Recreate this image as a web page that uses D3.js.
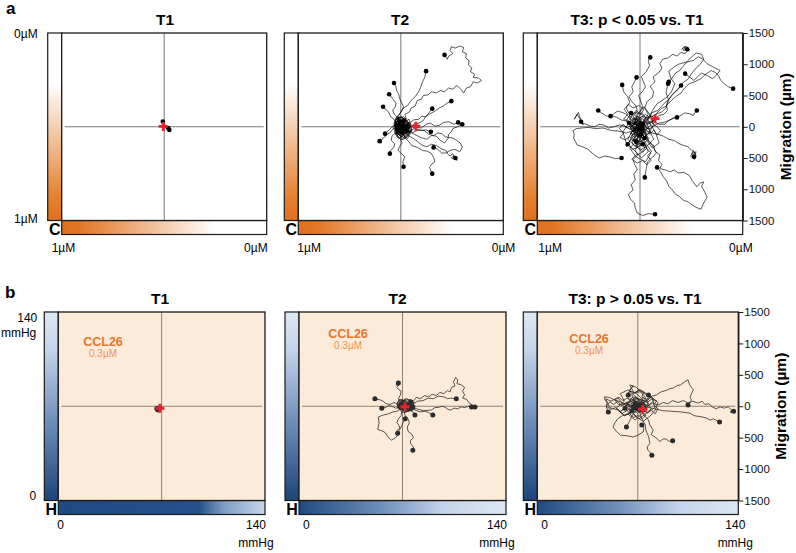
<!DOCTYPE html>
<html>
<head>
<meta charset="utf-8">
<script src="https://cdn.jsdelivr.net/npm/d3@7"></script>
<style>
  body { margin: 0; background: #fff; }
  svg { font-family: "Liberation Sans", Arial, sans-serif; }
</style>
</head>
<body>
<div id="chart"></div>
<script>
////////////////////////////////////////////////////////////////////////
// Data (all track coordinates in µm, origin = start of every track)

let panelTitles = ["T1", "T2", "T3: p < 0.05 vs. T1", "T1", "T2", "T3: p > 0.05 vs. T1"];
let migrationDomain = [-1500, 1500];
let migrationTicks = [1500, 1000, 500, 0, -500, -1000, -1500];
let migrationLabel = "Migration (µm)";
let ccl26Label = ["CCL26", "0.3µM"];
let concLabels = ["0µM", "1µM"];
let o2Labels = ["0", "140", "mmHg"];

// centre of mass of each panel (red cross)
let centroids = [[-15, 5], [220, 10], [220, 130], [-25, -33], [35, -8], [73, -48]];

let tracksA1 = [
  [[0,0],[-10,40],[-20,85]],
  [[0,0],[30,-20],[50,-30],[75,-50]],
  [[0,0],[20,30],[-15,20],[10,-10],[40,-40],[60,-20]]
];

let tracksA2 = [
  [[0,0],[40,50],[20,110],[80,130],[60,200],[130,240],[150,300],[210,330],[240,420],[300,440],[330,500],[400,510],[450,560],[520,540],[580,580],[640,560],[700,620],[760,600],[820,660],[880,600],[920,540],[960,620],[1020,640],[1060,720],[1120,700],[1180,740],[1140,780],[1060,790],[1080,840],[1020,880],[1040,940],[990,990],[1000,1060],[950,1100],[960,1170],[900,1200],[920,1270],[860,1290],[800,1260],[740,1280],[720,1220],[760,1170],[700,1130],[680,1080],[640,1150]],
  [[0,0],[-40,70],[-60,150],[-10,220],[40,300],[100,340],[150,420],[210,480],[260,560],[290,630],[310,700],[350,790],[370,890]],
  [[0,0],[60,40],[120,60],[190,110],[260,120],[310,170],[360,160],[430,210],[500,250],[560,300],[620,330],[680,380],[740,410]],
  [[0,0],[50,-30],[90,-40],[150,10],[200,40],[270,60],[330,100],[360,160],[400,200],[430,250],[460,290]],
  [[0,0],[80,-40],[150,-60],[220,-10],[300,-20],[370,40],[430,60],[500,10],[560,20],[630,70],[700,80],[780,40],[840,70]],
  [[0,0],[100,-70],[200,-120],[290,-170],[380,-200],[450,-140],[520,-150],[580,-220],[640,-260],[690,-190],[700,-120],[740,-80],[760,-30],[830,0],[900,40]],
  [[0,0],[60,-80],[120,-150],[190,-190],[260,-250],[320,-300],[380,-320],[450,-280],[520,-300],[590,-350],[660,-380],[690,-440],[720,-470],[760,-430],[790,-520],[740,-500],[780,-460],[820,-540],[770,-480],[800,-500]],
  [[0,0],[90,-60],[180,-90],[260,-50],[340,-60],[410,-120],[480,-140],[540,-100],[600,-110],[650,-160],[700,-170],[760,-180],[820,-220],[870,-260],[900,-320],[880,-370],[860,-400],[790,-360],[720,-380],[660,-420],[600,-420],[540,-360],[480,-330]],
  [[0,0],[60,-30],[120,-40],[160,0],[200,-10],[250,-50],[300,-60],[370,-50],[440,-80]],
  [[0,0],[30,-90],[60,-180],[110,-230],[160,-300],[240,-330],[320,-380],[380,-390],[440,-420],[480,-490],[500,-560],[450,-600],[420,-650],[440,-700],[460,-750]],
  [[0,0],[-30,-60],[-60,-120],[-10,-190],[20,-260],[-20,-320],[-40,-380],[10,-430],[60,-480],[30,-560],[40,-640]],
  [[0,0],[-40,-60],[-80,-100],[-130,-150],[-140,-220],[-90,-270],[-100,-330],[-150,-380],[-160,-430]],
  [[0,0],[-60,-10],[-120,-40],[-150,-90],[-200,-120],[-230,-160],[-260,-180],[-300,-240],[-330,-200],[-280,-260],[-310,-230]],
  [[0,0],[-50,20],[-100,30],[-140,-20],[-180,-60],[-230,-110]],
  [[0,0],[-40,50],[-80,90],[-110,130],[-150,160],[-170,220],[-200,260],[-230,290],[-260,320]],
  [[0,0],[-20,70],[-40,140],[-90,190],[-120,260],[-80,320],[-70,380],[-120,450],[-170,520]],
  [[0,0],[-30,90],[-30,180],[10,250],[40,320],[10,390],[-20,460],[-30,520],[-60,580],[-70,640],[-100,700]],
  [[0,0],[40,60],[-30,120],[-80,40],[-40,-60],[30,-120],[90,-40],[50,50],[-20,10],[-60,-90],[10,-170],[80,-90],[120,30],[60,140],[-10,80]],
  [[0,0],[-50,-40],[20,-90],[70,-20],[30,80],[-40,150],[-100,60],[-60,-60],[20,-200],[100,-140],[150,-60],[90,20],[10,-30],[-30,40],[40,90]],
  [[0,0],[60,-30],[110,40],[40,110],[-50,90],[-110,-10],[-70,-120],[0,-60],[60,-150],[130,-80],[70,10],[0,40],[-60,-20]],
  [[0,0],[30,-40],[-20,-80],[-70,-30],[-40,40],[20,90],[70,30],[110,-30],[60,-110],[0,-150],[-50,-100],[-80,20],[-30,130],[40,160],[100,90],[140,0],[90,-70],[30,-20]],
  [[0,0],[-30,50],[-80,80],[-60,-20],[-90,-90],[-20,-130],[50,-180],[110,-120],[160,-40],[120,60],[60,120],[0,170],[-50,120],[-10,40],[50,10],[20,-60],[-40,-40]],
  [[0,0],[50,20],[20,80],[-40,60],[-60,0],[-20,-60],[40,-80],[90,-20],[70,50],[10,110],[-70,130],[-90,50],[-50,-160],[20,-210],[90,-170],[130,-90],[100,10]],
  [[0,0],[-60,-10],[-30,-70],[30,-50],[60,30],[0,60],[-50,30],[-80,-50],[-40,-120],[40,-130],[100,-60],[150,20],[120,120],[40,70],[-20,-20]],
  [[0,0],[20,60],[-40,100],[-90,30],[-70,-70],[0,-100],[70,-70],[60,10],[130,60],[160,-60],[100,-190],[30,-140],[-30,-190],[-80,-120],[-20,-30]],
  [[0,0],[70,-30],[40,40],[-30,20],[-10,-50],[60,-60],[110,10],[80,100],[20,140],[-60,160],[-90,90],[-40,20],[30,-10],[80,-120],[20,-90]],
  [[0,0],[20,30],[-10,60],[-50,40],[-40,-10],[-10,-40],[30,-70],[70,-40],[60,10],[90,50],[50,90],[0,70],[-30,110],[-70,80],[-60,20]],
  [[0,0],[-20,-30],[10,-60],[50,-40],[80,-80],[40,-120],[-10,-100],[-50,-140],[-70,-80],[-40,-30],[10,20],[50,50],[100,30],[120,-30],[90,-70]],
  [[0,0],[40,10],[70,-30],[30,-60],[-20,-40],[-50,10],[-20,50],[30,70],[70,110],[20,140],[-30,150],[-70,110],[-90,40],[-60,-40],[-10,-70]]
];

let tracksA3 = [
  [[0,0],[60,90],[120,200],[70,300],[100,400],[180,470],[200,560],[150,650],[220,720],[190,800],[270,860],[320,940],[290,1010],[330,1080],[410,1100],[480,1160],[540,1130],[600,1190],[660,1170],[700,1230],[650,1290],[610,1240],[680,1290],[720,1210],[660,1260],[630,1220],[690,1240]],
  [[0,0],[90,70],[200,100],[230,200],[310,290],[380,330],[460,420],[520,480],[600,540],[650,620],[720,690],[800,720],[890,770],[960,840],[1040,900],[1100,870],[1150,810],[1180,740],[1230,690],[1290,640],[1360,610]],
  [[0,0],[70,90],[150,150],[180,260],[250,370],[320,420],[400,480],[460,560],[510,690],[450,780],[420,890],[490,950],[560,1000],[660,1030],[780,1060],[850,1120],[910,1090],[980,1010],[1060,960],[1170,900],[1120,830],[1060,770],[980,820],[900,860],[840,800],[790,740],[720,800],[660,850]],
  [[0,0],[100,100],[160,220],[260,260],[340,360],[420,440],[480,520],[560,600],[620,700],[700,760],[760,860],[820,940],[880,1000],[930,1080],[900,1160],[820,1180],[760,1120],[700,1060],[640,980],[580,900],[520,860],[470,780],[420,720]],
  [[0,0],[-40,90],[-60,180],[0,250],[40,320],[10,410],[-20,500],[40,570],[80,640],[50,720],[20,800],[90,880],[140,980],[120,1050],[150,1110]],
  [[0,0],[-60,80],[-100,160],[-40,250],[-60,340],[-120,400],[-160,480],[-100,560],[-120,640],[-80,720],[-50,790]],
  [[0,0],[-70,60],[-140,120],[-160,210],[-200,300],[-150,390],[-180,480],[-240,560],[-260,670]],
  [[0,0],[-60,40],[-120,60],[-190,110],[-260,100],[-340,150],[-420,180],[-490,170],[-560,220],[-610,260]],
  [[0,0],[40,80],[100,150],[170,160],[240,200],[320,240],[380,300],[400,400],[460,500],[520,570],[600,660]],
  [[0,0],[80,20],[150,60],[210,130],[280,180],[350,200],[400,260],[390,340],[420,420],[380,550],[410,690]],
  [[0,0],[100,50],[200,80],[280,40],[360,40],[420,100],[500,150],[580,170],[650,220],[720,210],[780,180],[800,220],[830,260]],
  [[0,0],[-80,-30],[-150,-40],[-230,10],[-300,30],[-380,0],[-460,-20],[-530,30],[-600,40],[-660,0],[-720,10],[-790,40],[-850,60],[-880,130],[-920,200],[-960,120],[-900,230],[-880,160],[-830,30],[-860,80]],
  [[0,0],[-100,-60],[-200,-100],[-310,-70],[-420,-60],[-540,-20],[-650,-30],[-750,-10],[-850,-20],[-930,-30],[-980,-60],[-960,-120],[-970,-180],[-940,-240],[-920,-290],[-840,-320],[-760,-360],[-680,-440],[-600,-500],[-520,-470],[-450,-480],[-360,-510],[-270,-500]],
  [[0,0],[90,-60],[180,-100],[260,-120],[340,-150],[420,-200],[500,-220],[570,-270],[640,-300],[700,-320],[740,-360],[780,-400],[800,-420],[760,-500],[820,-460],[780,-380],[740,-470],[800,-520],[760,-430],[820,-400],[790,-480]],
  [[0,0],[-40,-80],[-20,-160],[-80,-220],[-40,-300],[-70,-380],[-30,-450],[-100,-520],[-80,-600],[-40,-680],[-90,-760],[-70,-850],[-130,-930],[-100,-1010],[-170,-1080],[-140,-1160],[-80,-1220],[-70,-1300],[-40,-1380],[40,-1420],[120,-1390],[220,-1400]],
  [[0,0],[40,-90],[100,-160],[130,-250],[200,-300],[220,-390],[290,-450],[270,-540],[320,-600],[290,-670],[370,-690],[440,-720],[500,-690],[560,-740],[640,-730],[720,-780],[760,-860],[830,-960],[880,-900],[930,-880],[900,-960],[940,-1030],[980,-1130],[930,-1220],[890,-1320],[820,-1290],[760,-1250],[700,-1200],[640,-1180],[580,-1120],[520,-1080],[470,-1010],[420,-950],[390,-870],[340,-800],[300,-720],[250,-650]],
  [[0,0],[30,-80],[50,-150],[110,-200],[160,-260],[200,-340],[240,-420],[180,-490],[110,-560],[90,-680],[70,-810]],
  [[0,0],[-60,-80],[-120,-150],[-150,-230],[-200,-320],[-180,-280]],
  [[0,0],[-50,40],[-100,80],[-150,140],[-200,200],[-260,230],[-330,250],[-380,210],[-430,170]],
  [[0,0],[80,-20],[150,-30],[210,20],[280,60],[350,70],[420,100],[480,130],[540,150]],
  [[0,0],[80,150],[-60,260],[-150,120],[-80,-60],[40,-200],[150,-80],[90,80],[-30,40],[-120,-150],[-40,-320],[60,-250],[120,-400],[20,-500],[-80,-380],[-200,-260],[-250,-80],[-160,60]],
  [[0,0],[-90,40],[-40,180],[60,320],[140,200],[200,40],[120,-120],[30,-60],[-60,-240],[-150,-340],[-60,-480],[80,-560],[160,-420],[60,-300],[-20,-150],[-110,-20],[-200,100],[-130,220]],
  [[0,0],[50,-80],[-30,-160],[-110,-60],[-180,-200],[-100,-280],[10,-370],[110,-300],[200,-200],[140,-60],[40,60],[-40,120],[20,230],[110,120],[230,-100],[280,-260],[180,-340],[70,-180]],
  [[0,0],[-40,-100],[40,-130],[-20,-220],[-90,-160],[-60,-40],[30,20],[-10,100],[-70,60],[-20,-30],[60,-60],[10,-180],[-50,-290],[30,-260],[90,-120],[40,40]],
  [[0,0],[-50,60],[-110,20],[-80,-50],[-140,-100],[-60,-140],[0,-90],[60,-150],[20,-230],[-70,-260],[-130,-200],[-180,-280],[-110,-360],[-30,-330],[40,-410],[100,-340],[60,-260],[130,-190],[80,-110],[20,-40]],
  [[0,0],[40,70],[-20,130],[-90,110],[-140,170],[-60,230],[10,200],[60,280],[-20,340],[-100,300],[-170,360],[-230,280],[-180,200],[-240,120],[-170,60],[-100,-10],[-40,-70],[30,-30]],
  [[0,0],[-30,-60],[30,-110],[90,-60],[150,-120],[200,-50],[250,-130],[300,-60],[240,10],[170,60],[220,140],[150,180],[90,120],[30,170],[-30,110],[-80,50],[-30,0]],
  [[0,0],[-70,-30],[-130,30],[-190,-20],[-250,40],[-300,-30],[-240,-100],[-290,-170],[-220,-210],[-150,-160],[-90,-220],[-30,-180],[-60,-110],[0,-60],[60,-20],[20,40]],
  [[0,0],[20,-80],[-40,-130],[-100,-210],[-40,-280],[30,-260],[70,-340],[20,-420],[-60,-450],[-120,-520],[-40,-580],[40,-540],[100,-610],[160,-540],[110,-460],[170,-400],[120,-320],[60,-220],[10,-120]],
  [[0,0],[60,40],[0,90],[-60,60],[-110,110],[-50,170],[20,140],[80,200],[140,150],[100,80],[160,30],[100,-30],[40,-60],[-20,-20]],
  [[0,0],[-40,30],[-90,-30],[-40,-80],[20,-40],[70,-90],[30,-150],[-30,-120],[-80,-170],[-140,-120],[-100,-60],[-150,0],[-100,60],[-40,100],[10,50]],
  [[0,0],[30,40],[-20,70],[-60,30],[-100,60],[-70,-20],[-30,-60],[-80,-110],[-30,-150],[20,-110],[70,-160],[40,-220],[-20,-250],[-70,-200],[-120,-240],[-90,-300],[-20,-320],[40,-280]],
  [[0,0],[-40,-20],[-20,-70],[40,-60],[70,-10],[40,40],[80,90],[30,130],[-30,100],[-80,140],[-120,90],[-90,30],[-140,-20],[-100,-80],[-40,-40],[10,10]],
  [[0,0],[20,-50],[-30,-90],[-10,-150],[50,-180],[90,-130],[60,-70],[110,-30],[70,20],[20,60],[-30,30],[-70,-10],[-110,-60],[-60,-100],[-20,-60],[10,-20]],
  [[0,0],[-20,50],[20,110],[-30,160],[-80,120],[-60,70],[-110,30],[-150,-30],[-100,-70],[-50,-30],[0,-60],[30,-110],[-10,-170],[-60,-140],[-90,-190],[-50,-240]]
];

let tracksB1 = [
  [[0,0],[-30,-20],[-60,-30],[-70,-35]],
  [[0,0],[-40,10],[-80,-20],[-60,-50]],
  [[0,0],[-20,-30],[-50,-60]]
];

let tracksB2 = [
  [[0,0],[50,30],[90,80],[150,70],[200,140],[260,120],[320,170],[380,150],[430,190],[490,170],[540,220],[600,200],[650,250],[690,230],[710,300],[760,320],[740,390],[770,460],[800,420],[790,360],[850,340],[900,300],[870,240],[900,180],[870,130],[930,110],[960,60],[1010,20],[1050,-10]],
  [[0,0],[80,40],[150,40],[220,80],[300,90],[370,130],[450,120],[520,160],[600,150],[650,120],[700,130],[780,120]],
  [[0,0],[100,-30],[200,-40],[300,-70],[420,-60],[470,-20],[520,-20],[570,0],[610,-10],[660,-50],[700,-60],[750,-30],[800,-40],[850,-10],[900,-20],[960,0],[1000,-10]],
  [[0,0],[-30,60],[-60,120],[-30,180],[-20,240],[-60,270],[-80,300],[-40,360],[-90,330],[-60,370]],
  [[0,0],[-60,30],[-120,60],[-180,30],[-240,40],[-280,80],[-320,100],[-400,120]],
  [[0,0],[-50,-20],[-100,-30],[-150,0],[-200,10],[-250,-20],[-300,-30]],
  [[0,0],[-40,-50],[-80,-80],[-140,-90],[-200,-120],[-280,-140],[-350,-170],[-340,-270],[-360,-370],[-300,-390],[-250,-420],[-210,-490],[-160,-540],[-100,-500],[-60,-450],[-50,-390],[-20,-330],[10,-260],[40,-200]],
  [[0,0],[20,-80],[40,-150],[80,-200],[100,-260],[70,-330],[80,-400],[130,-440],[160,-500],[110,-550],[120,-600],[160,-650],[150,-700]],
  [[0,0],[-10,-80],[-20,-150],[-60,-200],[-80,-260],[-50,-310],[-40,-350],[-80,-390],[-70,-430]],
  [[0,0],[80,-20],[150,-40],[200,-70],[260,-90],[320,-80],[380,-100],[440,-140]],
  [[0,0],[50,-30],[100,-60],[150,-90],[180,-140]],
  [[0,0],[60,50],[120,10],[80,-60],[-20,-40],[-60,40],[0,100],[90,80],[160,30],[130,-70],[40,-90],[-40,-20],[20,40]],
  [[0,0],[-50,-30],[-20,70],[50,120],[140,90],[170,-10],[100,-40],[30,20],[-40,60],[-70,-10],[10,-70],[90,-30]],
  [[0,0],[40,-50],[130,-20],[100,50],[20,80],[-50,110],[-80,30],[-30,-50],[60,0],[120,70]],
  [[0,0],[40,30],[90,0],[130,40],[160,-20],[110,-60],[60,-30],[10,-70],[-40,-30],[-70,20],[-30,60],[20,90],[70,60],[120,100],[170,60],[140,-10]],
  [[0,0],[-40,40],[-80,0],[-50,-50],[0,-30],[50,-80],[100,-40],[150,-70],[180,0],[130,50],[80,30],[30,80],[-20,110],[-60,70],[-10,20]],
  [[0,0],[30,-40],[80,-10],[60,40],[110,80],[60,120],[10,80],[-40,100],[-80,50],[-60,-30],[0,-60],[60,-90],[120,-50],[100,10]],
  [[0,0],[-30,-20],[20,-50],[70,-20],[40,30],[100,40],[140,-10],[120,-60],[70,-80],[20,-100],[-30,-70],[-60,-20],[-40,50],[10,60],[50,20]],
  [[0,0],[30,20],[60,-10],[100,20],[130,-20],[90,-50],[50,-40],[0,-50],[-40,-10],[-20,30],[30,50],[80,40],[120,70],[160,40],[150,-10]],
  [[0,0],[-20,20],[20,50],[60,30],[100,60],[140,30],[110,-20],[70,0],[30,-20],[-10,-40],[-50,-20],[-40,30],[0,40]]
];

let tracksB3 = [
  [[0,0],[70,60],[150,100],[210,160],[280,180],[350,230],[420,250],[480,280],[530,290],[590,330],[640,340],[700,390],[750,420],[770,350],[800,300],[830,260],[800,200],[780,140],[800,100],[780,70],[750,20]],
  [[0,0],[80,40],[150,10],[220,50],[300,20],[380,60],[450,40],[520,90],[600,60],[680,90],[750,50],[820,80],[900,50],[960,80],[1000,30],[1060,40],[1110,-10],[1170,-40],[1230,-10],[1290,-30],[1350,-10],[1400,-60],[1380,-100],[1430,-80]],
  [[0,0],[120,-10],[250,-40],[370,-70],[500,-80],[640,-90],[780,-110],[840,-150],[900,-160],[960,-170],[1030,-190],[1080,-220],[1130,-200],[1180,-230],[1220,-250]],
  [[0,0],[50,-80],[100,-150],[160,-220],[180,-300],[230,-380],[200,-450],[270,-500],[330,-560],[380,-520],[420,-520],[470,-560],[520,-550]],
  [[0,0],[30,-100],[60,-200],[110,-290],[120,-380],[160,-480],[180,-590],[140,-650],[150,-700],[190,-740],[210,-780]],
  [[0,0],[-80,-60],[-150,-120],[-230,-150],[-300,-200],[-340,-260],[-370,-330],[-320,-400],[-260,-460],[-160,-470],[-70,-490],[0,-460],[80,-410],[90,-350],[60,-300]],
  [[0,0],[-100,20],[-200,40],[-280,80],[-350,100],[-420,140],[-500,150],[-490,100],[-460,60],[-470,-10],[-440,-90]],
  [[0,0],[-40,80],[-80,150],[-90,200],[-120,250],[-90,290],[-70,330],[-120,260],[-140,180]],
  [[0,0],[-30,-70],[-80,-140],[-120,-230],[-170,-330]],
  [[0,0],[-100,80],[-220,30],[-300,140],[-400,80],[-480,120],[-420,-20],[-300,-60],[-200,-150],[-80,-100],[20,-200],[120,-120],[200,-40],[120,80],[0,120],[-80,200],[40,260],[160,180]],
  [[0,0],[80,100],[-20,200],[-150,260],[-260,200],[-200,80],[-320,-30],[-240,-120],[-120,-40],[-40,-160],[80,-240],[180,-160],[260,-60],[300,60],[200,150],[100,60],[-40,40]],
  [[0,0],[-60,-60],[-160,20],[-100,120],[0,60],[80,-30],[160,40],[100,160],[-20,300],[-120,340],[-60,220],[60,230],[220,120],[250,-20],[160,-100],[40,-60]],
  [[0,0],[120,30],[40,-90],[-60,-40],[-140,-130],[-40,-220],[60,-120],[140,-50],[70,90],[-30,140],[-130,80],[-190,-30]],
  [[0,0],[-60,40],[-120,-10],[-180,50],[-250,20],[-300,80],[-360,30],[-420,70],[-470,0],[-400,-50],[-330,-20],[-260,-80],[-190,-40],[-130,-100],[-60,-60],[0,-110],[60,-60],[20,0]],
  [[0,0],[50,60],[0,110],[-60,150],[-120,110],[-180,170],[-120,240],[-40,210],[20,270],[90,220],[60,150],[130,110],[190,160],[240,90],[180,30],[120,-20],[60,20]],
  [[0,0],[-40,-50],[20,-90],[80,-50],[140,-110],[200,-60],[260,-120],[300,-40],[240,20],[280,90],[200,110],[140,60],[80,100],[20,60],[-40,90],[-100,40],[-60,-10]],
  [[0,0],[-80,-30],[-140,40],[-200,-20],[-260,-90],[-200,-150],[-130,-110],[-60,-180],[10,-140],[70,-200],[120,-140],[60,-80],[120,-20],[60,40],[0,20]],
  [[0,0],[30,70],[-30,120],[-100,80],[-160,130],[-220,90],[-280,140],[-340,100],[-300,40],[-230,10],[-160,50],[-100,-10],[-40,30],[20,-20]],
  [[0,0],[-30,20],[-80,0],[-60,-40],[-110,-60],[-150,-20],[-200,30],[-160,70],[-100,50],[-50,90],[0,60],[40,100],[80,50],[40,10],[80,-30],[30,-60],[-10,-30]],
  [[0,0],[40,-20],[20,30],[-30,40],[-70,90],[-20,130],[30,100],[80,140],[120,90],[90,40],[140,0],[100,-50],[50,-80],[0,-60],[-40,-100],[-90,-70]]
];

let allTracks = [tracksA1, tracksA2, tracksA3, tracksB1, tracksB2, tracksB3];

////////////////////////////////////////////////////////////////////////
// Layout

let width = 796, height = 553;
let barW = 14;

let orange = "#e07020";
let navy = "#1d4579";

// box edges (pixels) for every panel
let panels = [
  { row: "a", x0: 61.7,  x1: 266.7, y0: 33,  y1: 220.5, tx: 165,   bl: -10, br: 1 },
  { row: "a", x0: 298.3, x1: 503.3, y0: 33,  y1: 220.5, tx: 400,   bl: -1,  br: 12 },
  { row: "a", x0: 537.3, x1: 742.7, y0: 33,  y1: 220.5, tx: 637,   bl: 1,   br: 10 },
  { row: "b", x0: 58.3,  x1: 265,   y0: 312, y1: 500.5, tx: 160,   bl: -1,  br: -9, cx: 103, cy: 346 },
  { row: "b", x0: 299,   x1: 506,   y0: 312, y1: 500.5, tx: 397.5, bl: 4,   br: -9, cx: 348, cy: 338 },
  { row: "b", x0: 537.3, x1: 738.3, y0: 312, y1: 500.5, tx: 635,   bl: 4,   br: -3, cx: 589, cy: 343 }
];

let svg = d3.select("#chart").append("svg")
  .attr("width", width)
  .attr("height", height);

let defs = svg.append("defs");

function addGradient(id, vertical, stops) {
  let g = defs.append("linearGradient")
    .attr("id", id)
    .attr("x1", 0).attr("y1", 0)
    .attr("x2", vertical ? 0 : 1).attr("y2", vertical ? 1 : 0);
  g.selectAll("stop").data(stops).enter().append("stop")
    .attr("offset", d => d[0])
    .attr("stop-color", d => d[1]);
}

addGradient("aLeft", true, [[0, "#ffffff"], [0.27, "#ffffff"], [0.88, "#e4802f"], [1, orange]]);
addGradient("aBottom", false, [[0, orange], [0.08, "#e27524"], [0.75, "#ffffff"], [1, "#ffffff"]]);
addGradient("bLeft", true, [[0, "#dfe8f4"], [0.2, "#c3d3ea"], [0.6, "#6a8bb5"], [1, navy]]);
addGradient("bBottom1", false, [[0, "#1f4a80"], [0.68, "#25508a"], [0.8, "#7f9dc4"], [1, "#c6d6ec"]]);
addGradient("bBottom2", false, [[0, "#1f4a80"], [0.4, "#6f8fba"], [0.7, "#c4d4eb"], [1, "#dde7f4"]]);

// panel letters
svg.append("text").attr("x", 6).attr("y", 14).text("a")
  .attr("font-size", 17).attr("font-weight", "bold");
svg.append("text").attr("x", 5).attr("y", 298).text("b")
  .attr("font-size", 17).attr("font-weight", "bold");

function drawPanel(p, i) {
  let tracks = allTracks[i];
  let isA = p.row === "a";
  let g = svg.append("g");

  let x = d3.scaleLinear().domain(migrationDomain).range([p.x0, p.x1]);
  let y = d3.scaleLinear().domain(migrationDomain).range([p.y1, p.y0]);

  // gradient bars
  g.append("rect")
    .attr("x", p.x0 - barW).attr("y", p.y0)
    .attr("width", barW).attr("height", p.y1 - p.y0)
    .attr("fill", isA ? "url(#aLeft)" : "url(#bLeft)")
    .attr("stroke", "#1a1a1a").attr("stroke-width", 1.2);
  g.append("rect")
    .attr("x", p.x0).attr("y", p.y1)
    .attr("width", p.x1 - p.x0).attr("height", barW)
    .attr("fill", isA ? "url(#aBottom)" : (i === 3 ? "url(#bBottom1)" : "url(#bBottom2)"))
    .attr("stroke", "#1a1a1a").attr("stroke-width", 1.2);

  // main box
  g.append("rect")
    .attr("x", p.x0).attr("y", p.y0)
    .attr("width", p.x1 - p.x0).attr("height", p.y1 - p.y0)
    .attr("fill", isA ? "#ffffff" : "#fdebd9");

  // cross hair through the origin
  let crossColor = isA ? "#555555" : "#8f8273";
  g.append("line")
    .attr("x1", p.x0 + 3).attr("x2", p.x1 - 3)
    .attr("y1", y(0)).attr("y2", y(0))
    .attr("stroke", crossColor).attr("stroke-width", isA ? 0.8 : 1);
  g.append("line")
    .attr("x1", x(0)).attr("x2", x(0))
    .attr("y1", p.y0).attr("y2", p.y1)
    .attr("stroke", crossColor).attr("stroke-width", isA ? 0.8 : 1);

  // clip tracks to the box
  let clipId = "clip" + i;
  defs.append("clipPath").attr("id", clipId).append("rect")
    .attr("x", p.x0).attr("y", p.y0)
    .attr("width", p.x1 - p.x0).attr("height", p.y1 - p.y0);

  let trackColor = isA ? "#000000" : "#302d2a";
  let line = d3.line().x(d => x(d[0])).y(d => y(d[1]));
  let tg = g.append("g").attr("clip-path", "url(#" + clipId + ")");

  tg.selectAll("path.track").data(tracks).enter().append("path")
    .attr("class", "track")
    .attr("d", line)
    .attr("fill", "none")
    .attr("stroke", trackColor)
    .attr("stroke-width", isA ? 0.65 : 0.8)
    .attr("stroke-linejoin", "round");

  tg.selectAll("circle.end").data(tracks).enter().append("circle")
    .attr("class", "end")
    .attr("cx", d => x(d[d.length - 1][0]))
    .attr("cy", d => y(d[d.length - 1][1]))
    .attr("r", isA ? 2.3 : 2.5)
    .attr("fill", isA ? "#000000" : "#2b2b2b");

  // centre of mass
  let c = centroids[i];
  tg.append("path")
    .attr("d", "M-4.5,0H4.5M0,-4.5V4.5")
    .attr("transform", "translate(" + x(c[0]) + "," + y(c[1]) + ")")
    .attr("stroke", "#e8212b").attr("stroke-width", 2.8);

  // outline on top
  g.append("rect")
    .attr("x", p.x0).attr("y", p.y0)
    .attr("width", p.x1 - p.x0).attr("height", p.y1 - p.y0)
    .attr("fill", "none")
    .attr("stroke", "#1a1a1a").attr("stroke-width", 1.3);

  // title
  g.append("text")
    .attr("x", p.tx).attr("y", p.y0 - 8)
    .attr("text-anchor", "middle")
    .attr("font-size", 15.5).attr("font-weight", "bold")
    .text(panelTitles[i]);

  // corner letter
  g.append("text")
    .attr("x", p.x0 - barW / 2).attr("y", p.y1 + 14.5)
    .attr("text-anchor", "middle")
    .attr("font-size", 16).attr("font-weight", "bold")
    .text(isA ? "C" : "H");

  // gradient bar labels
  if (isA) {
    g.append("text").attr("x", p.x0 + p.bl).attr("y", p.y1 + 31)
      .attr("font-size", 12).text(concLabels[1]);
    g.append("text").attr("x", p.x1 + p.br).attr("y", p.y1 + 31)
      .attr("text-anchor", "end").attr("font-size", 12).text(concLabels[0]);
    if (i === 0) {
      g.append("text").attr("x", p.x0 - barW - 10).attr("y", p.y0 + 5)
        .attr("text-anchor", "end").attr("font-size", 12).text(concLabels[0]);
      g.append("text").attr("x", p.x0 - barW - 10).attr("y", p.y1 + 2.5)
        .attr("text-anchor", "end").attr("font-size", 12).text(concLabels[1]);
    }
  } else {
    g.append("text").attr("x", p.x0 + p.bl).attr("y", p.y1 + 28.5)
      .attr("font-size", 12).text(o2Labels[0]);
    g.append("text").attr("x", p.x1 + p.br).attr("y", p.y1 + 28.5)
      .attr("text-anchor", "middle").attr("font-size", 12).text(o2Labels[1]);
    g.append("text").attr("x", p.x1 + p.br).attr("y", p.y1 + 46)
      .attr("text-anchor", "middle").attr("font-size", 12).text(o2Labels[2]);
    if (i === 3) {
      g.append("text").attr("x", p.x0 - barW - 7).attr("y", p.y0 + 9.5)
        .attr("text-anchor", "end").attr("font-size", 12).text(o2Labels[1]);
      g.append("text").attr("x", p.x0 - barW - 8).attr("y", p.y0 + 24.5)
        .attr("text-anchor", "end").attr("font-size", 12).text(o2Labels[2]);
      g.append("text").attr("x", p.x0 - barW - 8).attr("y", p.y1 - 0.5)
        .attr("text-anchor", "end").attr("font-size", 12).text(o2Labels[0]);
    }
    // chemokine label
    g.append("text").attr("x", p.cx).attr("y", p.cy)
      .attr("text-anchor", "middle").attr("font-size", 12.5).attr("font-weight", "bold")
      .attr("fill", "#e8762d").text(ccl26Label[0]);
    g.append("text").attr("x", p.cx).attr("y", p.cy + 11)
      .attr("text-anchor", "middle").attr("font-size", 10)
      .attr("fill", "#ee9555").text(ccl26Label[1]);
  }

  // right axis on the last panel of each row
  if (i === 2 || i === 5) {
    let axis = d3.axisRight(y)
      .tickValues(migrationTicks)
      .tickSize(5)
      .tickSizeOuter(0)
      .tickFormat(d => Math.abs(d));
    let ag = g.append("g")
      .attr("transform", "translate(" + p.x1 + ",0)")
      .call(axis);
    ag.select(".domain").attr("stroke", "#1a1a1a").attr("stroke-width", 1.3);
    ag.selectAll(".tick line").attr("stroke", "#1a1a1a");
    ag.selectAll(".tick text")
      .attr("x", 6)
      .attr("font-size", 11.5)
      .attr("font-family", "Liberation Sans, Arial, sans-serif")
      .attr("fill", "#111");
    g.append("text")
      .attr("transform", "translate(" + (p.x1 + 48) + "," + ((p.y0 + p.y1) / 2) + ") rotate(-90)")
      .attr("text-anchor", "middle")
      .attr("font-size", 15.5).attr("font-weight", "bold")
      .text(migrationLabel);
  }
}

panels.forEach(drawPanel);
</script>
</body>
</html>
